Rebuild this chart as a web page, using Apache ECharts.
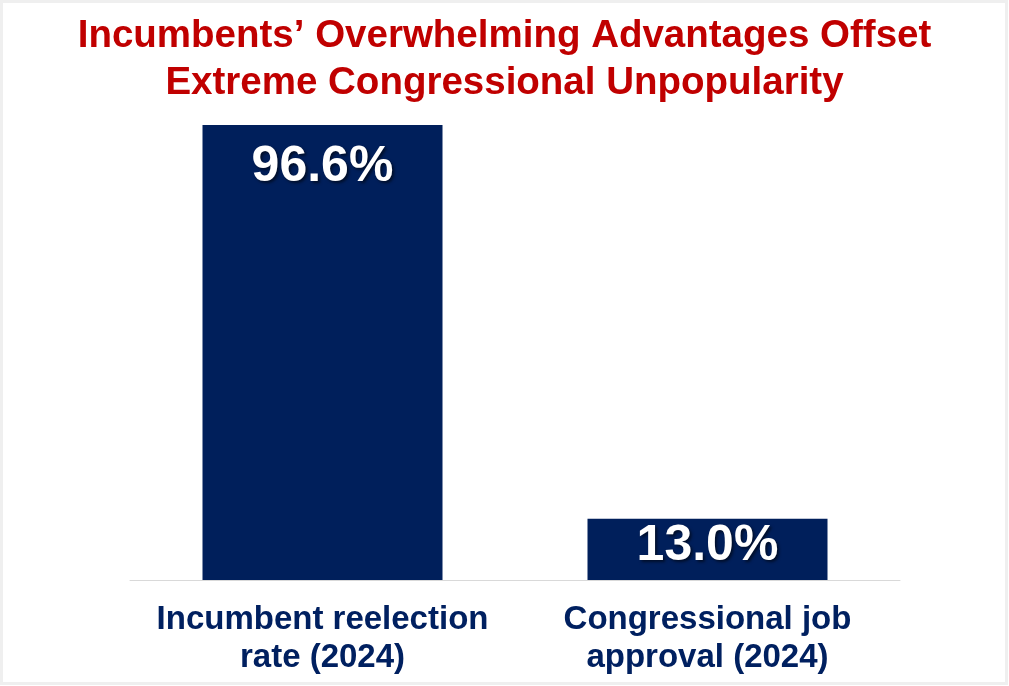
<!DOCTYPE html>
<html>
<head>
<meta charset="utf-8">
<script src="https://cdn.jsdelivr.net/npm/echarts@6/dist/echarts.min.js"></script>
<style>
html,body{margin:0;padding:0;background:#fff;}
#chart{width:1009px;height:686px;}
</style>
</head>
<body>
<div id="chart"></div>
<script>
const titleText = "Incumbents\u2019 Overwhelming Advantages Offset\nExtreme Congressional Unpopularity";
const categories = ["Incumbent reelection\nrate (2024)", "Congressional job\napproval (2024)"];
const values = [96.6, 13.0];
const yMin = 0;
const yMax = 100;

const chart = echarts.init(document.getElementById('chart'));
const FONT = '"Liberation Sans", Arial, sans-serif';
const labelBase = {
  show: true,
  color: '#ffffff',
  fontFamily: FONT,
  fontWeight: 'bold',
  fontSize: 50,
  textShadowColor: 'rgba(0,0,0,0.55)',
  textShadowBlur: 3,
  textShadowOffsetX: 2,
  textShadowOffsetY: 2,
  formatter: p => p.value.toFixed(1) + '%'
};
chart.setOption({
  backgroundColor: '#ffffff',
  animation: false,
  graphic: [{
    type: 'rect',
    shape: {x: 1.5, y: 1.5, width: 1005, height: 682},
    style: {fill: 'none', stroke: '#efefef', lineWidth: 3},
    silent: true
  }],
  title: {
    text: titleText,
    left: 'center',
    top: 8,
    textStyle: {
      color: '#C00000',
      fontFamily: FONT,
      fontWeight: 'bold',
      fontSize: 38.5,
      lineHeight: 47
    }
  },
  grid: {left: 130, right: 109, top: 109, bottom: 106, containLabel: false},
  xAxis: {
    type: 'category',
    data: categories,
    axisLine: {show: true, lineStyle: {color: '#d9d9d9', width: 1}},
    axisTick: {show: false},
    axisLabel: {
      color: '#002060',
      fontFamily: FONT,
      fontWeight: 'bold',
      fontSize: 33,
      lineHeight: 38,
      margin: 21,
      interval: 0
    }
  },
  yAxis: {
    type: 'value',
    min: yMin,
    max: yMax,
    show: false,
    splitLine: {show: false}
  },
  series: [{
    type: 'bar',
    data: values.map((v, i) => ({
      value: v,
      label: i === 0
        ? Object.assign({}, labelBase, {position: 'insideTop', distance: 17})
        : Object.assign({}, labelBase, {position: 'inside', offset: [0, -3]})
    })),
    barWidth: 240,
    itemStyle: {color: '#001F5B'}
  }]
});
</script>
</body>
</html>
